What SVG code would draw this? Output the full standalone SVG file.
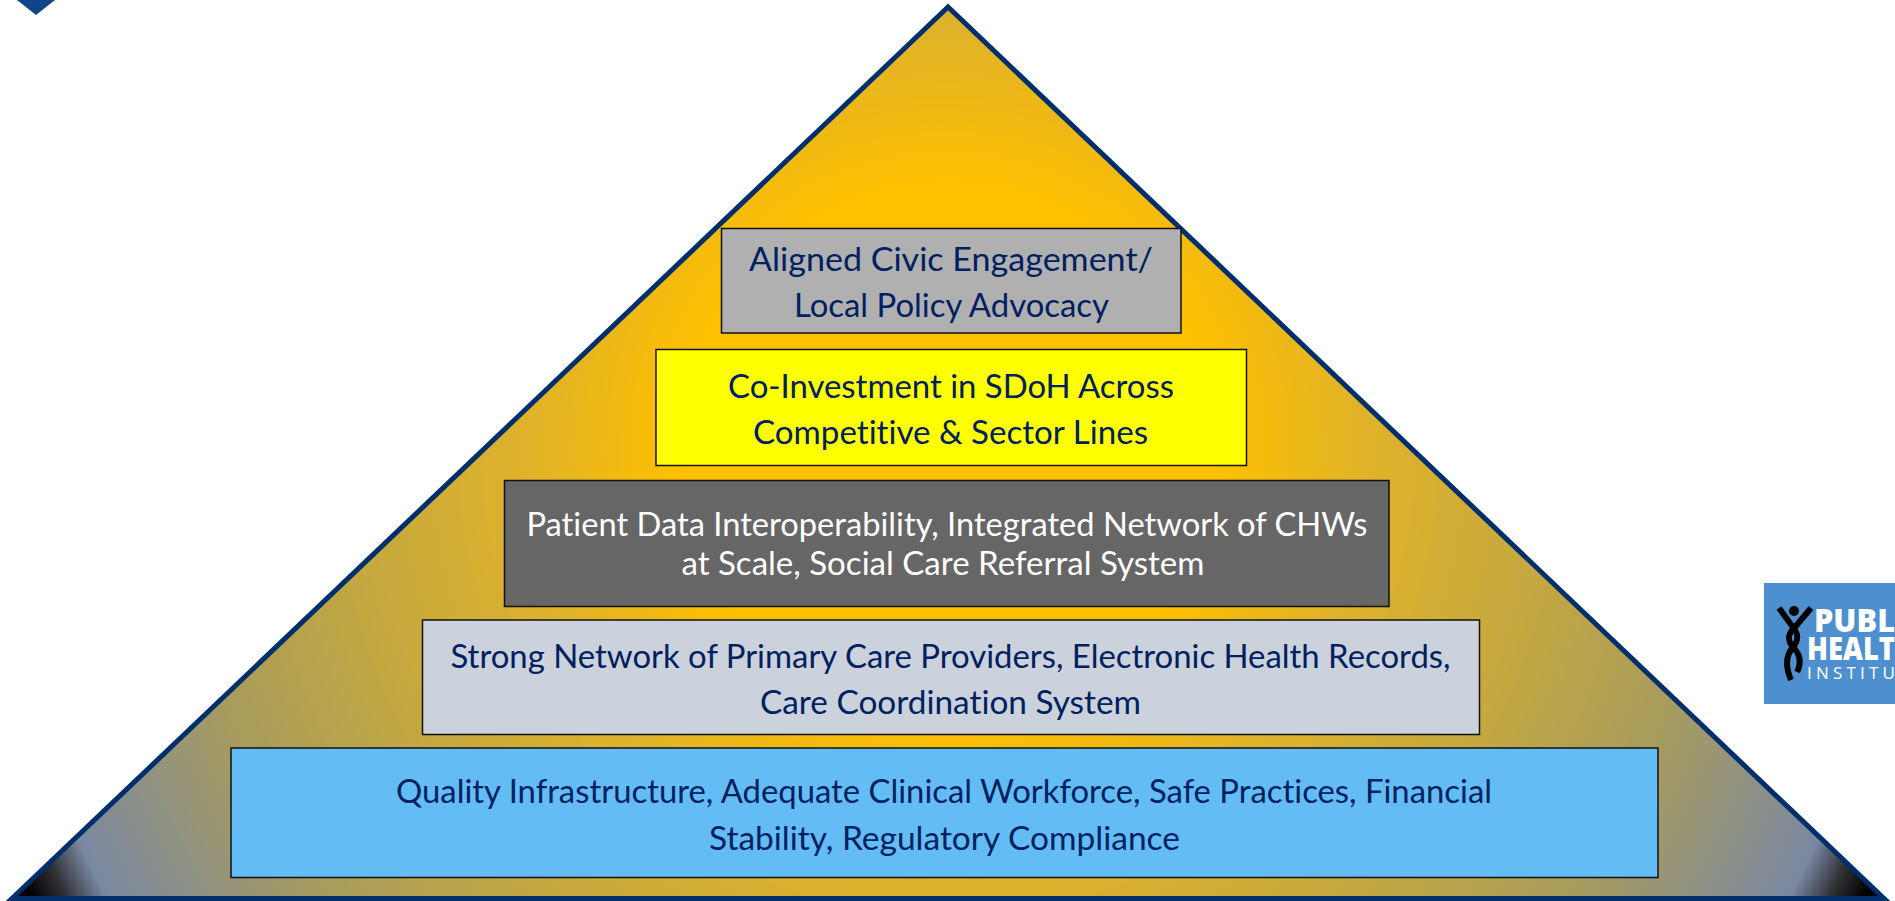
<svg xmlns="http://www.w3.org/2000/svg" width="1895" height="901" viewBox="0 0 1895 901">
<style>
.tier{stroke:#111;stroke-width:1.5}
.t{font-family:"Lato","Noto Sans",sans-serif;font-size:32px;fill:#002060;font-variant-ligatures:none}
.w{fill:#fff}
.logo{font-family:"Open Sans","Liberation Sans",sans-serif;fill:#fff}
.fig{fill:none;stroke:#000;stroke-width:6}
</style>
<defs>
<radialGradient id="pyr" gradientUnits="userSpaceOnUse" cx="948" cy="450" r="1030">
<stop offset="0" stop-color="#FFC000"/>
<stop offset="0.26" stop-color="#FFC000"/>
<stop offset="0.41" stop-color="#DFB22A"/>
<stop offset="0.58" stop-color="#C4A840"/>
<stop offset="0.74" stop-color="#A89C5C"/>
<stop offset="0.925" stop-color="#7A88A2"/>
<stop offset="0.96" stop-color="#303035"/>
<stop offset="0.99" stop-color="#000000"/>
<stop offset="1" stop-color="#000000"/>
</radialGradient>
</defs>
<rect width="1895" height="901" fill="#fff"/>
<polygon id="corner-mark" points="17,0 55,0 36,15" fill="#0F4488"/>
<g id="pyramid"><polygon points="948,7 12,898.5 1884,898.5" fill="url(#pyr)" stroke="#002F6C" stroke-width="5" stroke-linejoin="miter"/></g>
<g id="tier-civic">
<rect class="tier" x="721.5" y="228.5" width="459.5" height="104.5" fill="#B0B0B0"/>
<text class="t" x="749" y="271" textLength="404" lengthAdjust="spacingAndGlyphs">Aligned Civic Engagement/</text>
<text class="t" x="794" y="317" textLength="315" lengthAdjust="spacingAndGlyphs">Local Policy Advocacy</text>
</g>
<g id="tier-investment">
<rect class="tier" x="656" y="349.5" width="590.5" height="116" fill="#FFFF00"/>
<text class="t" x="728" y="398" textLength="446" lengthAdjust="spacingAndGlyphs">Co-Investment in SDoH Across</text>
<text class="t" x="753" y="444" textLength="395" lengthAdjust="spacingAndGlyphs">Competitive &amp; Sector Lines</text>
</g>
<g id="tier-data">
<rect class="tier" x="504.5" y="480.5" width="884.5" height="126" fill="#666666"/>
<text class="t w" x="526.5" y="535.5" textLength="841" lengthAdjust="spacingAndGlyphs">Patient Data Interoperability, Integrated Network of CHWs</text>
<text class="t w" x="681.5" y="574.5" textLength="523" lengthAdjust="spacingAndGlyphs">at Scale, Social Care Referral System</text>
</g>
<g id="tier-primary">
<rect class="tier" x="422.5" y="620" width="1057" height="114.5" fill="#CBD2DB"/>
<text class="t" x="450.5" y="668" textLength="1000" lengthAdjust="spacingAndGlyphs">Strong Network of Primary Care Providers, Electronic Health Records,</text>
<text class="t" x="760" y="714" textLength="381" lengthAdjust="spacingAndGlyphs">Care Coordination System</text>
</g>
<g id="tier-quality">
<rect class="tier" x="231" y="748" width="1427" height="129.5" fill="#63BDF4"/>
<text class="t" x="396" y="803" textLength="1096" lengthAdjust="spacingAndGlyphs">Quality Infrastructure, Adequate Clinical Workforce, Safe Practices, Financial</text>
<text class="t" x="709" y="850" textLength="471" lengthAdjust="spacingAndGlyphs">Stability, Regulatory Compliance</text>
</g>
<g id="logo">
<rect x="1764" y="583" width="131" height="121" fill="#4E90CF"/>
<circle cx="1794" cy="611" r="5" fill="#000"/>
<path class="fig" d="M1779,608 L1792,626 C1799,634 1799,640 1793,647 C1786,655 1785,666 1791,680"/>
<path class="fig" d="M1811,608 L1796,626 C1787,634 1787,640 1793,647 C1801,655 1801,664 1797,672"/>
<text class="logo" x="1814" y="632" font-size="32" font-weight="800" textLength="81" lengthAdjust="spacingAndGlyphs">PUBL</text>
<text class="logo" x="1807" y="660" font-size="32" font-weight="800" textLength="88" lengthAdjust="spacingAndGlyphs">HEALT</text>
<text class="logo" x="1807" y="679" font-size="17" textLength="88" lengthAdjust="spacing">INSTITU</text>
</g>
</svg>
